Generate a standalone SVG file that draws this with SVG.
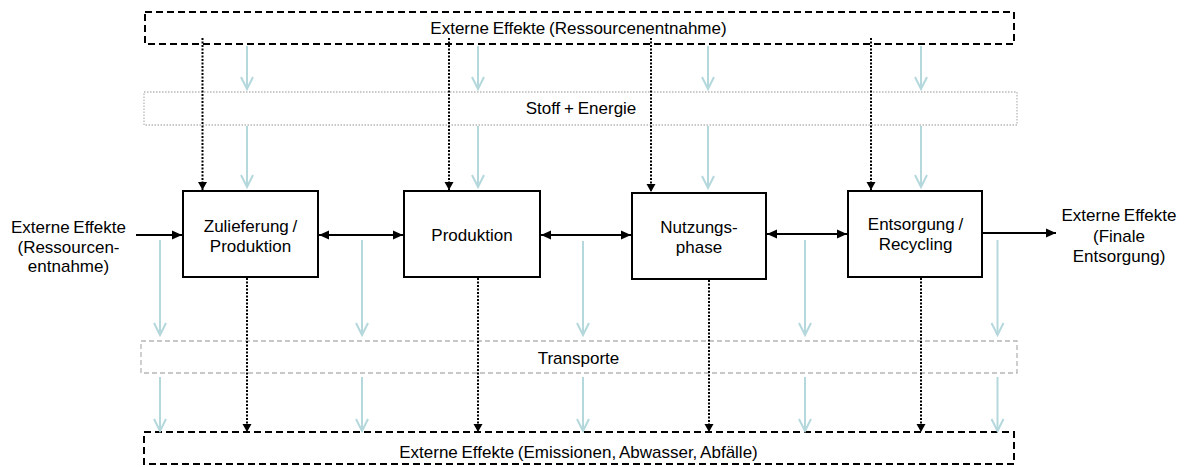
<svg xmlns="http://www.w3.org/2000/svg" width="1188" height="467" viewBox="0 0 1188 467">
  <style>
    text { font-family: "Liberation Sans", Arial, sans-serif; font-size: 17px; fill: #000; text-anchor: middle; word-spacing: -1px; }
    .box { fill: #fff; stroke: #000; stroke-width: 2; }
    .ext { fill: #fff; stroke: #000; stroke-width: 2; stroke-dasharray: 7 4; }
    .band-dot { fill: none; stroke: #b8b8b8; stroke-width: 1.3; stroke-dasharray: 1.5 1.5; }
    .band-dash { fill: none; stroke: #b5b5b5; stroke-width: 1.3; stroke-dasharray: 5 3; }
    .solid { fill: none; stroke: #000; stroke-width: 2; }
    .dotted { fill: none; stroke: #000; stroke-width: 2; stroke-dasharray: 2 1.5; }
    .blue { fill: none; stroke: #b5d8dd; stroke-width: 2; }
  </style>
  <defs>
    <marker id="ah" markerUnits="userSpaceOnUse" markerWidth="14" markerHeight="12" viewBox="-11 -6 12 12" refX="0" refY="0" orient="auto-start-reverse" overflow="visible">
      <path d="M-10,-4.5 L0,0 L-10,4.5 Z" fill="#000" stroke="none"/>
    </marker>
    <marker id="ahs" markerUnits="userSpaceOnUse" markerWidth="12" markerHeight="10" viewBox="-9 -5 10 10" refX="0" refY="0" orient="auto" overflow="visible">
      <path d="M-8,-4.5 L0,0 L-8,4.5 Z" fill="#000" stroke="none"/>
    </marker>
    <marker id="ab" markerUnits="userSpaceOnUse" markerWidth="16" markerHeight="16" viewBox="-14 -8 16 16" refX="0" refY="0" orient="auto" overflow="visible">
      <path d="M-12,-6 L0,0 L-12,6" fill="none" stroke="#b5d8dd" stroke-width="2"/>
    </marker>
  </defs>

  <rect width="1188" height="467" fill="#fff"/>

  <g id="ext-top">
    <rect class="ext" x="145" y="12" width="869" height="32"/>
    <text x="578.5" y="34">Externe Effekte (Ressourcenentnahme)</text>
  </g>
  <g id="stoff-energie">
    <rect class="band-dot" x="144" y="92" width="873" height="33"/>
    <text x="581" y="114">Stoff + Energie</text>
  </g>
  <g id="transporte">
    <rect class="band-dash" x="141" y="341" width="876" height="32"/>
    <text x="578.5" y="364">Transporte</text>
  </g>
  <g id="ext-bottom">
    <rect class="ext" x="144" y="432" width="870" height="32"/>
    <text x="578.5" y="458">Externe Effekte (Emissionen, Abwasser, Abfälle)</text>
  </g>

  <g id="connectors">
    <!-- light blue flows, top -->
    <line class="blue" x1="247" y1="46" x2="247" y2="89" marker-end="url(#ab)"/>
    <line class="blue" x1="247" y1="126" x2="247" y2="187" marker-end="url(#ab)"/>
    <line class="blue" x1="478" y1="46" x2="478" y2="89" marker-end="url(#ab)"/>
    <line class="blue" x1="478" y1="126" x2="478" y2="187" marker-end="url(#ab)"/>
    <line class="blue" x1="708" y1="46" x2="708" y2="89" marker-end="url(#ab)"/>
    <line class="blue" x1="708" y1="126" x2="708" y2="188" marker-end="url(#ab)"/>
    <line class="blue" x1="921" y1="46" x2="921" y2="89" marker-end="url(#ab)"/>
    <line class="blue" x1="921" y1="126" x2="921" y2="187" marker-end="url(#ab)"/>
    <!-- light blue flows, bottom -->
    <line class="blue" x1="160" y1="240" x2="160" y2="335" marker-end="url(#ab)"/>
    <line class="blue" x1="160" y1="377" x2="160" y2="431" marker-end="url(#ab)"/>
    <line class="blue" x1="362" y1="240" x2="362" y2="335" marker-end="url(#ab)"/>
    <line class="blue" x1="362" y1="377" x2="362" y2="431" marker-end="url(#ab)"/>
    <line class="blue" x1="583" y1="241" x2="583" y2="335" marker-end="url(#ab)"/>
    <line class="blue" x1="583" y1="377" x2="583" y2="431" marker-end="url(#ab)"/>
    <line class="blue" x1="805" y1="240" x2="805" y2="335" marker-end="url(#ab)"/>
    <line class="blue" x1="805" y1="377" x2="805" y2="431" marker-end="url(#ab)"/>
    <line class="blue" x1="997.5" y1="240" x2="997.5" y2="335" marker-end="url(#ab)"/>
    <line class="blue" x1="997.5" y1="377" x2="997.5" y2="431" marker-end="url(#ab)"/>

    <!-- dotted black: resource extraction into boxes -->
    <line class="dotted" x1="202.5" y1="38" x2="202.5" y2="190" marker-end="url(#ahs)"/>
    <line class="dotted" x1="449" y1="38" x2="449" y2="190" marker-end="url(#ahs)"/>
    <line class="dotted" x1="651" y1="38" x2="651" y2="192" marker-end="url(#ahs)"/>
    <line class="dotted" x1="871" y1="38" x2="871" y2="190" marker-end="url(#ahs)"/>
    <!-- dotted black: emissions from boxes -->
    <line class="dotted" x1="247" y1="278" x2="247" y2="432" marker-end="url(#ahs)"/>
    <line class="dotted" x1="478" y1="278" x2="478" y2="432" marker-end="url(#ahs)"/>
    <line class="dotted" x1="709" y1="280" x2="709" y2="432" marker-end="url(#ahs)"/>
    <line class="dotted" x1="921" y1="278" x2="921" y2="432" marker-end="url(#ahs)"/>

    <!-- main flow -->
    <line class="solid" x1="136" y1="235" x2="182" y2="235" marker-end="url(#ah)"/>
    <line class="solid" x1="319" y1="235" x2="403" y2="235" marker-start="url(#ah)" marker-end="url(#ah)"/>
    <line class="solid" x1="541" y1="235" x2="631" y2="235" marker-start="url(#ah)" marker-end="url(#ah)"/>
    <line class="solid" x1="767" y1="234" x2="847" y2="234" marker-start="url(#ah)" marker-end="url(#ah)"/>
    <line class="solid" x1="983" y1="233" x2="1056" y2="233" marker-end="url(#ah)"/>
  </g>

  <g id="ext-left">
    <text x="68.5" y="233">Externe Effekte</text>
    <text x="68.5" y="253">(Ressourcen-</text>
    <text x="68.5" y="272">entnahme)</text>
  </g>
  <g id="zulieferung">
    <rect class="box" x="183" y="191" width="135" height="86"/>
    <text x="250.5" y="231.5">Zulieferung /</text>
    <text x="250.5" y="251.5">Produktion</text>
  </g>
  <g id="produktion">
    <rect class="box" x="404" y="191" width="136" height="86"/>
    <text x="472" y="241">Produktion</text>
  </g>
  <g id="nutzungsphase">
    <rect class="box" x="632" y="193" width="134" height="86"/>
    <text x="699" y="232.7">Nutzungs-</text>
    <text x="699" y="252.5">phase</text>
  </g>
  <g id="entsorgung">
    <rect class="box" x="848" y="191" width="134" height="86"/>
    <text x="915.5" y="229.5">Entsorgung /</text>
    <text x="915.5" y="250">Recycling</text>
  </g>
  <g id="ext-right">
    <text x="1119" y="221">Externe Effekte</text>
    <text x="1119" y="241.5">(Finale</text>
    <text x="1119" y="261.5">Entsorgung)</text>
  </g>
</svg>
